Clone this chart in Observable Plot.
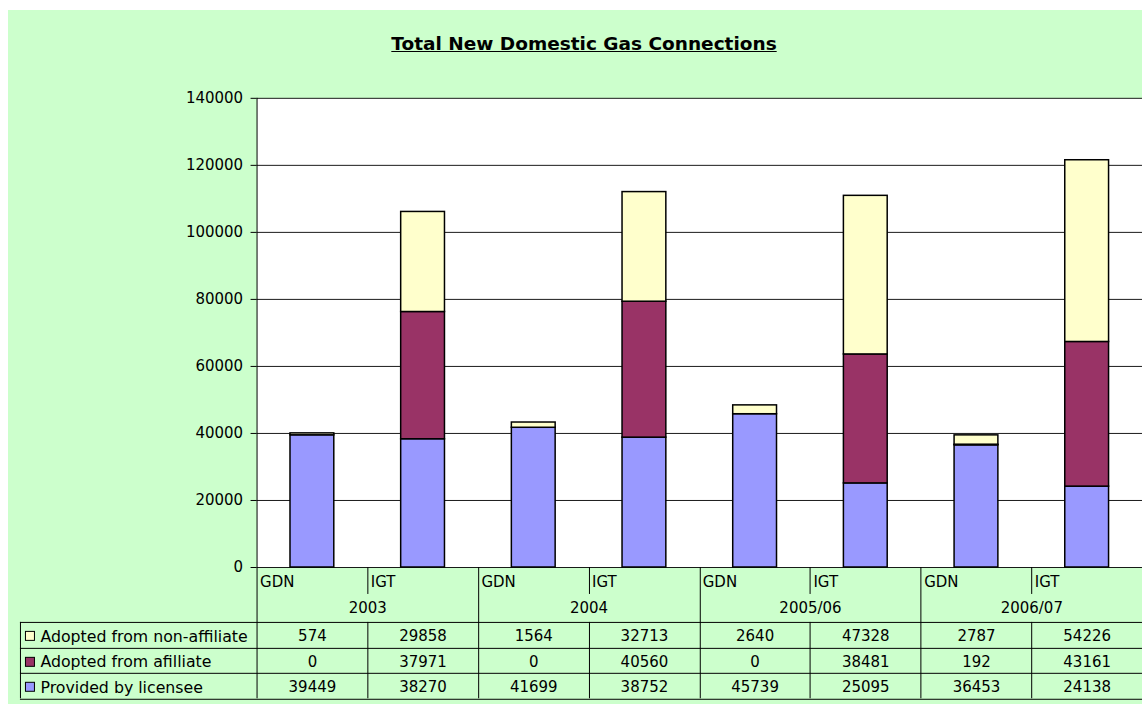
<!DOCTYPE html>
<html><head><meta charset="utf-8">
<script src="https://cdn.jsdelivr.net/npm/d3@7"></script>
<script src="https://cdn.jsdelivr.net/npm/@observablehq/plot@0.6"></script>
<style>
html,body{margin:0;padding:0;background:#fff;overflow:hidden;width:1142px;height:704px;}
#bg{position:absolute;left:8px;top:10px;width:1134px;height:694px;background:#CCFFCC;}
#title{position:absolute;left:0;top:34px;width:1168px;text-align:center;font:bold 18.5px "DejaVu Sans";line-height:20px;text-decoration:underline;color:#000;}
#chart{position:absolute;left:0;top:0;}
</style></head><body>
<div id="bg"></div>
<div id="title">Total New Domestic Gas Connections</div>
<div id="chart"></div>
<script>
// ---- data ----
const years = ["2003", "2004", "2005/06", "2006/07"];
const types = ["GDN", "IGT"];
const seriesNames = ["Adopted from non-affiliate", "Adopted from afilliate", "Provided by licensee"];
const seriesColors = ["#FFFFCC", "#993366", "#9999FF"];
const nonAffiliate = [574, 29858, 1564, 32713, 2640, 47328, 2787, 54226];
const affiliate = [0, 37971, 0, 40560, 0, 38481, 192, 43161];
const licensee = [39449, 38270, 41699, 38752, 45739, 25095, 36453, 24138];
const yTicks = [0, 20000, 40000, 60000, 80000, 100000, 120000, 140000];

const seriesValues = [nonAffiliate, affiliate, licensee];
const columns = years.flatMap(y => types.map(t => ({key: y + " " + t, year: y, type: t})));
const tableData = seriesValues.flatMap((vals, row) =>
  columns.map((c, i) => ({key: c.key, series: seriesNames[row], row, value: vals[i]})));
// stack order bottom -> top : licensee, affiliate, non-affiliate
const barData = [2, 1, 0].flatMap(row => tableData.filter(d => d.row === row));
const yearCols = columns.filter(c => c.type === "GDN");

// ---- layout ----
const W = 1144, H = 704, ML = 257, MR = 0, MT = 98, MB = 136;
const BW = (W - ML - MR) / columns.length;
const HDR_DY = 15, YEAR_DY = 41, SEP_H = 27, ROW_TOP = 55, ROW_H = 25.5;
const TABLE_LEFT = 20;

function tableMark(index, scales, values, dims) {
  const x = scales.x;
  const bottom = dims.height - dims.marginBottom;
  const px = v => Math.round(v) + 0.5;
  const g = d3.create("svg:g").attr("stroke", "#000").attr("stroke-width", 1).attr("fill", "none");
  const line = (x1, y1, x2, y2) => g.append("line").attr("x1", x1).attr("y1", y1).attr("x2", x2).attr("y2", y2);
  const tableBottom = bottom + ROW_TOP + ROW_H * 3;
  // left axis line of the plot area continues into the table
  line(px(dims.marginLeft), dims.marginTop, px(dims.marginLeft), tableBottom);
  // year group boundaries
  for (const c of yearCols.slice(1)) line(px(x(c.key)), bottom, px(x(c.key)), tableBottom);
  // GDN / IGT separators
  for (const c of columns.filter(c => c.type === "IGT")) {
    line(px(x(c.key)), bottom, px(x(c.key)), bottom + SEP_H);
    line(px(x(c.key)), bottom + ROW_TOP, px(x(c.key)), tableBottom);
  }
  // table left edge
  line(px(TABLE_LEFT), bottom + ROW_TOP, px(TABLE_LEFT), tableBottom);
  // horizontal row lines
  for (let r = 0; r <= 3; r++) {
    const yy = px(bottom + ROW_TOP + ROW_H * r);
    line(TABLE_LEFT, yy, dims.width, yy);
  }
  // legend keys
  seriesNames.forEach((s, r) => {
    const cy = bottom + ROW_TOP + ROW_H * (r + 0.5) + 1.5;
    g.append("rect").attr("x", 25.5).attr("y", Math.round(cy - 5) + 0.5).attr("width", 9).attr("height", 9)
      .attr("fill", seriesColors[r]);
  });
  return g.node();
}

const marks = [
  Plot.frame({fill: "white", stroke: "none"}),
  Plot.gridY(yTicks, {stroke: "#000", strokeOpacity: 0.9, strokeWidth: 1}),
  Plot.barY(barData, {
    x: "key", y: "value", fill: "series",
    stroke: "#000", strokeWidth: 1.5, insetLeft: 33.5, insetRight: 33.5
  }),
  Plot.axisY(yTicks, {tickSize: 6, tickPadding: 8, tickFormat: d => String(d), label: null, stroke: "#000"}),
  tableMark,
  Plot.text(columns, {x: "key", text: "type", frameAnchor: "bottom", lineAnchor: "middle", textAnchor: "start", dx: -BW / 2 + 3, dy: HDR_DY}),
  Plot.text(yearCols, {x: "key", text: "year", frameAnchor: "bottom", lineAnchor: "middle", dx: BW / 2, dy: YEAR_DY}),
  ...[0, 1, 2].map(row => Plot.text(tableData.filter(d => d.row === row), {
    x: "key", text: d => String(d.value), frameAnchor: "bottom", lineAnchor: "middle",
    dy: ROW_TOP + ROW_H * (row + 0.5) + 1.5
  })),
  ...[0, 1, 2].map(row => Plot.text([seriesNames[row]], {
    text: d => d, frameAnchor: "bottom-left", lineAnchor: "middle", textAnchor: "start",
    fontSize: 15.8, dx: 40 - ML, dy: ROW_TOP + ROW_H * (row + 0.5) + 1.5
  }))
];

const chart = Plot.plot({
  width: W, height: H,
  marginLeft: ML, marginRight: MR, marginTop: MT, marginBottom: MB,
  style: {background: "transparent", fontFamily: "DejaVu Sans", fontSize: "15px", color: "#000", overflow: "visible"},
  x: {type: "band", domain: columns.map(c => c.key), padding: 0, round: false, axis: null},
  y: {domain: [0, 140000], axis: null},
  color: {type: "ordinal", domain: seriesNames, range: seriesColors},
  marks
});
document.getElementById("chart").appendChild(chart);
</script>
</body></html>
